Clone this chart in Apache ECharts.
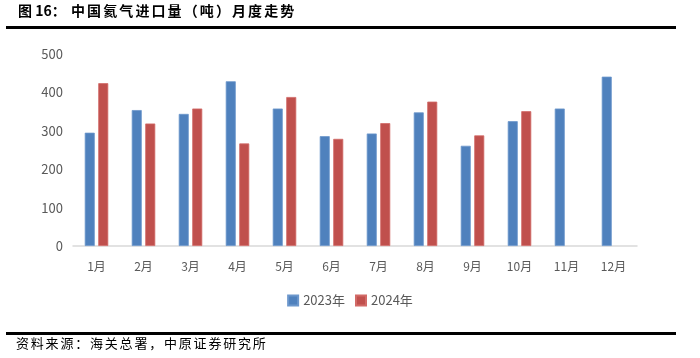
<!DOCTYPE html>
<html><head><meta charset="utf-8">
<script src="https://cdn.jsdelivr.net/npm/echarts@6/dist/echarts.min.js"></script>
<style>html,body{margin:0;padding:0;background:#fff}#c{width:700px;height:358px}</style>
</head><body><div id="c"></div>
<script>
const categories = ['1月','2月','3月','4月','5月','6月','7月','8月','9月','10月','11月','12月'];
const series2023 = [295, 354, 344, 429, 358, 286, 293, 348, 261, 325, 358, 441];
const series2024 = [424, 319, 358, 267, 388, 279, 320, 376, 288, 351, null, null];
const yTicks = [0, 100, 200, 300, 400, 500];
const titlePrefix = '图 16：';
const titleText = '中国氦气进口量（吨）月度走势';
const sourceText = '资料来源：海关总署，中原证券研究所';

const chart = echarts.init(document.getElementById('c'), null, {renderer: 'canvas'});
const font = '"Noto Sans CJK SC", "Liberation Sans", sans-serif';
const graphics = [
  {type: 'text', left: 18, top: 4, style: {text: titlePrefix, font: 'bold 14px ' + font, fill: '#000'}},
  {type: 'rect', shape: {x: 6, y: 26, width: 670, height: 3}, style: {fill: '#000'}},
  {type: 'rect', shape: {x: 6, y: 332, width: 670, height: 3}, style: {fill: '#000'}}
];
Array.from(titleText).forEach((ch, i) => {
  graphics.push({type: 'text', x: 71 + i * 16.1, y: 4, style: {text: ch, font: 'bold 14px ' + font, fill: '#000'}});
});
Array.from(sourceText).forEach((ch, i) => {
  graphics.push({type: 'text', x: 16 + i * 14.8, y: 337, style: {text: ch, font: '13px ' + font, fill: '#000'}});
});
chart.setOption({
  animation: false,
  backgroundColor: '#fff',
  textStyle: {fontFamily: font},
  graphic: graphics,
  legend: {
    data: ['2023年', '2024年'],
    top: 289, left: 'center',
    itemWidth: 10, itemHeight: 10, itemGap: 10,
    icon: 'rect',
    textStyle: {color: '#595959', fontSize: 13, fontFamily: font}
  },
  grid: {left: 73, right: 63, top: 54, bottom: 112},
  xAxis: {
    type: 'category', data: categories,
    axisLine: {lineStyle: {color: '#D9D9D9', width: 1.5}},
    axisTick: {show: false},
    axisLabel: {color: '#595959', fontSize: 12, margin: 14}
  },
  yAxis: {
    type: 'value', min: yTicks[0], max: yTicks[yTicks.length-1], interval: 100,
    axisLine: {show: false}, axisTick: {show: false}, splitLine: {show: false},
    axisLabel: {color: '#595959', fontSize: 13, margin: 10}
  },
  series: [
    {name: '2023年', type: 'bar', data: series2023, barWidth: 10, barGap: '35%',
     itemStyle: {color: '#4F81BD', borderColor: '#6C97CC', borderWidth: 0.8}},
    {name: '2024年', type: 'bar', data: series2024, barWidth: 10,
     itemStyle: {color: '#C0504D', borderColor: '#D26A67', borderWidth: 0.8}}
  ]
});
</script></body></html>
